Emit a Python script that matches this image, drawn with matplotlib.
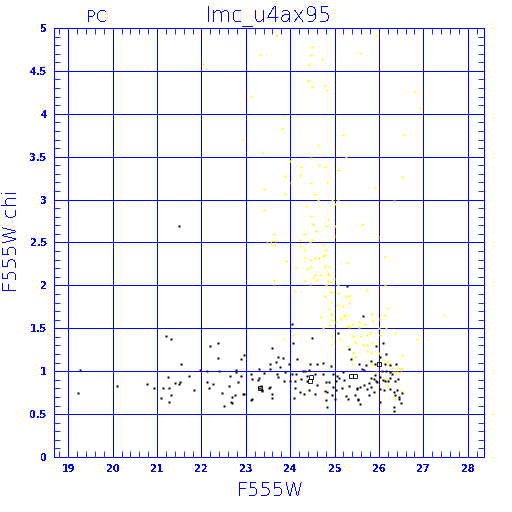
import numpy as np
import matplotlib
matplotlib.use('Agg')
import matplotlib.pyplot as plt

# crisp, pixel-like rendering as in the original plot
plt.rcParams['lines.antialiased'] = False
plt.rcParams['patch.antialiased'] = False
plt.rcParams['text.antialiased'] = False

# black (good fit) stars: F555W magnitude vs chi
black_x = [19.26, 19.22, 20.09, 20.77, 20.93, 21.20, 21.31, 21.53, 21.24, 21.13,
           21.27, 21.08, 21.31, 21.27, 21.40, 21.49, 21.51, 21.72, 21.83, 21.96,
           22.12, 22.19, 22.37, 22.37, 22.39, 22.12, 22.16, 22.27, 22.47, 22.50,
           22.64, 22.62, 22.68, 22.68, 22.75, 22.77, 22.79, 22.82, 22.90, 22.89,
           22.95, 22.95, 23.11, 23.13, 23.12, 23.28, 23.30, 23.30, 23.29, 23.34,
           23.34, 23.37, 23.40, 23.52, 23.54, 23.55, 23.58, 23.60, 23.60, 23.67,
           23.70, 23.73, 21.50, 24.05, 24.06, 23.83, 23.97, 24.15, 23.77, 24.29,
           24.44, 24.60, 24.73, 24.92, 24.33, 24.43, 23.88, 24.05, 24.12, 24.24,
           24.57, 24.75, 24.96, 24.11, 24.37, 24.37, 24.60, 24.80, 24.87, 25.05,
           25.03, 25.10, 25.22, 25.20, 25.32, 25.17, 25.04, 24.96, 24.78, 24.83,
           24.57, 24.43, 24.30, 24.23, 24.10, 24.09, 23.99, 23.86, 23.73, 23.55,
           23.36, 23.13, 22.93, 22.67, 24.82, 24.81, 25.00, 25.25, 25.31, 25.45,
           25.52, 25.50, 24.94, 25.33, 25.38, 25.08, 25.27, 25.65, 24.50,
           25.93, 26.10, 26.15, 26.02, 25.82, 25.92, 25.56, 25.71, 25.61, 25.66,
           26.14, 26.38, 26.26, 26.07, 26.16, 26.24, 26.30, 25.90, 25.83, 25.78,
           25.88, 25.94, 25.96, 26.03, 26.08, 26.14, 26.20, 26.26, 26.36, 26.43,
           25.66, 25.58, 25.50, 25.74, 25.83, 26.02, 26.12, 26.24, 26.35, 26.41,
           26.53, 25.89, 25.78, 26.37, 26.45, 25.52, 25.57, 26.03, 26.34, 26.49,
           26.46, 26.34]
black_y = [1.01, 0.75, 0.83, 0.85, 0.81, 1.41, 1.38, 1.08, 0.93, 0.81,
           0.80, 0.69, 0.72, 0.64, 0.86, 0.85, 0.87, 0.94, 0.78, 1.01,
           1.00, 1.29, 1.33, 1.15, 1.00, 0.87, 0.81, 0.85, 0.75, 0.60,
           0.94, 0.83, 0.70, 0.63, 0.72, 1.01, 0.99, 0.87, 0.94, 1.14,
           1.19, 0.73, 0.97, 0.91, 0.67, 0.90, 1.02, 0.92, 0.81, 0.83,
           0.79, 0.77, 0.98, 0.81, 1.02, 1.08, 1.27, 0.74, 0.69, 1.11,
           0.97, 1.16, 2.69, 1.55, 1.33, 1.15, 1.08, 1.14, 1.05, 1.00,
           1.08, 1.08, 1.10, 1.06, 1.00, 1.01, 0.99, 0.97, 0.97, 0.91,
           0.97, 0.97, 0.97, 0.88, 0.94, 0.88, 0.84, 0.87, 0.87, 0.94,
           0.88, 0.92, 0.90, 0.99, 0.83, 0.81, 0.78, 0.82, 0.77, 0.76,
           0.74, 0.78, 0.74, 0.76, 0.81, 0.69, 0.88, 0.89, 0.93, 0.82,
           0.78, 0.68, 0.74, 0.64, 0.58, 0.66, 0.68, 0.71, 0.68, 0.72,
           0.68, 0.79, 0.72, 1.26, 1.14, 1.44, 1.99, 1.64, 1.39,
           1.29, 1.33, 1.20, 1.16, 1.12, 1.08, 1.08, 1.07, 1.02, 1.01,
           1.08, 1.08, 1.07, 1.00, 1.00, 0.99, 0.97, 0.95, 0.92, 0.86,
           0.91, 0.89, 0.87, 0.93, 0.90, 0.88, 0.88, 0.92, 0.88, 0.91,
           0.84, 0.82, 0.81, 0.79, 0.82, 0.79, 0.78, 0.79, 0.76, 0.78,
           0.75, 0.76, 0.72, 0.72, 0.70, 0.67, 0.62, 0.64, 0.58, 0.63,
           0.68, 0.54]

# hollow black squares
open_x = [24.47, 24.45, 25.36, 25.46, 23.32, 25.99]
open_y = [0.93, 0.88, 0.94, 0.94, 0.81, 1.08]

# yellow (poor fit) stars
yellow_x = [23.69, 25.93, 24.50, 23.31, 24.48, 24.71, 25.57, 24.43, 22.03, 24.41,
            24.50, 24.78, 24.80, 23.12, 26.82, 26.93, 23.87, 23.81, 22.93, 25.18,
            26.57, 24.64, 23.36, 25.26, 24.48, 23.99, 24.25, 24.64, 24.78, 25.08,
            23.88, 24.23, 24.01, 24.84, 24.48, 26.53, 25.91, 23.40, 23.88, 24.55,
            24.62, 24.94, 25.08, 25.00, 26.35, 24.35, 23.40, 24.47, 24.85, 24.52,
            24.81, 25.00, 25.61, 24.59, 23.64, 24.30, 24.98, 25.97, 24.50, 24.23,
            24.44, 23.47, 24.23, 24.75, 24.30, 24.81, 24.78, 26.13, 24.30, 24.47,
            24.57, 24.66, 24.73, 23.91, 25.29, 24.78, 24.88, 24.12, 24.44, 24.38,
            24.86, 24.57, 24.67, 24.85, 24.52, 24.60, 24.98, 23.64, 23.64, 24.33,
            24.44, 24.85, 24.92, 24.81, 25.08, 26.14, 25.72, 24.08, 24.89, 24.96,
            25.08, 24.78, 25.26, 25.33, 24.94, 25.33, 26.21, 25.06, 25.20, 24.88,
            25.84, 24.92, 25.22, 27.47, 26.13, 26.03, 25.87, 25.56, 25.68, 25.54,
            25.99, 26.17, 25.79, 25.74, 25.59, 26.03, 26.36, 26.86, 25.63, 25.72,
            25.84, 25.72, 25.82, 26.00, 26.53, 26.09, 26.21, 25.96, 25.85, 26.23,
            26.30, 26.53, 26.33, 25.94, 26.16, 26.49, 26.37, 26.19, 24.69, 24.94,
            24.95, 25.14, 25.23, 25.04, 24.87, 24.73, 25.27, 25.33, 25.40, 25.55,
            24.94, 25.12, 25.41, 25.46, 24.08, 23.87, 24.94, 25.31, 25.41, 25.46,
            25.39]
yellow_y = [4.92, 4.92, 4.78, 4.69, 4.68, 4.64, 4.71, 4.58, 4.58, 4.38,
            4.31, 4.33, 4.28, 4.21, 4.25, 4.07, 3.97, 3.84, 3.71, 3.75,
            3.75, 3.64, 3.54, 3.50, 3.48, 3.45, 3.38, 3.40, 3.38, 3.35,
            3.28, 3.29, 3.19, 3.21, 3.19, 3.26, 3.15, 3.12, 3.06, 3.07,
            3.00, 3.00, 3.00, 2.95, 2.98, 2.93, 2.88, 2.81, 2.77, 2.72,
            2.69, 2.69, 2.72, 2.63, 2.60, 2.60, 2.58, 2.56, 2.53, 2.53,
            2.51, 2.49, 2.46, 2.47, 2.41, 2.41, 2.36, 2.33, 2.32, 2.30,
            2.32, 2.32, 2.34, 2.29, 2.26, 2.23, 2.22, 2.22, 2.21, 2.19,
            2.15, 2.12, 2.12, 2.12, 2.09, 2.06, 2.07, 2.06, 2.02, 2.05,
            2.02, 2.05, 2.04, 2.00, 2.01, 2.00, 1.95, 1.93, 1.92, 1.92,
            1.91, 1.88, 1.88, 1.88, 1.81, 1.79, 1.74, 1.77, 1.76, 1.72,
            1.67, 1.67, 1.66, 1.66, 1.65, 1.61, 1.59, 1.57, 1.55, 1.51,
            1.50, 1.50, 1.45, 1.42, 1.41, 1.42, 1.45, 1.38, 1.31, 1.31,
            1.33, 1.24, 1.21, 1.21, 1.19, 1.13, 1.12, 1.10, 1.08, 1.08,
            1.04, 1.03, 0.99, 0.99, 0.91, 0.77, 0.68, 0.83, 1.63, 1.65,
            1.60, 1.62, 1.64, 1.57, 1.54, 1.50, 1.53, 1.52, 1.55, 1.52,
            1.41, 1.38, 1.41, 1.34, 1.42, 1.38, 1.32, 1.29, 1.21, 1.17,
            1.08]

# hollow yellow squares
yopen_x = [23.62, 26.45]
yopen_y = [2.49, 1.01]

x_major = list(range(19, 29))
y_major = [0, 0.5, 1, 1.5, 2, 2.5, 3, 3.5, 4, 4.5, 5]
y_labels = ['0', '0.5', '1', '1.5', '2', '2.5', '3', '3.5', '4', '4.5', '5']

blue = '#0000ff'

fig = plt.figure(figsize=(5.12, 5.12), dpi=100)
ax = fig.add_axes([54 / 512, 55 / 512, 430 / 512, 429 / 512])
ax.set_xlim(18.678, 28.367)
ax.set_ylim(0, 5)

ax.set_xticks(x_major)
ax.set_xticks(np.arange(18.8, 28.4, 0.2), minor=True)
ax.set_yticks(y_major)
ax.set_yticklabels(y_labels)
ax.set_yticks(np.arange(0, 5.01, 0.1), minor=True)

ax.set_axisbelow(True)
ax.grid(which='major', color=blue, lw=0.6)
ax.tick_params(which='major', length=0, labelcolor=blue, labelsize=7, pad=5)
ax.tick_params(which='minor', direction='in', length=4, width=0.6, color=blue,
               top=True, right=True)
for lab in ax.get_xticklabels() + ax.get_yticklabels():
    lab.set_fontweight('bold')
for sp in ax.spines.values():
    sp.set_color(blue)
    sp.set_linewidth(0.6)

ax.plot(yellow_x, yellow_y, 's', ms=2.1, color='#ffff00', mec='none')
ax.plot(yopen_x, yopen_y, 's', ms=2.6, mfc='none', mec='#ffff00', mew=0.6)
ax.plot(black_x, black_y, 's', ms=2.1, color='black', mec='none')
ax.plot(open_x, open_y, 's', ms=2.6, mfc='none', mec='black', mew=0.6)

fig.text(269 / 512, 1 - 16 / 512, 'lmc_u4ax95', ha='center', va='center',
         color=blue, fontsize=15, fontweight='light')
fig.text(96 / 512, 1 - 18 / 512, 'PC', ha='center', va='center',
         color=blue, fontsize=11.5, fontweight='light')
fig.text(270 / 512, 1 - 490 / 512, 'F555W', ha='center', va='center',
         color=blue, fontsize=14, fontweight='light')
fig.text(12 / 512, 1 - 241 / 512, 'F555W chi', ha='center', va='center',
         rotation=90, color=blue, fontsize=14, fontweight='light')

fig.savefig('out.png', dpi=100, facecolor='white')
